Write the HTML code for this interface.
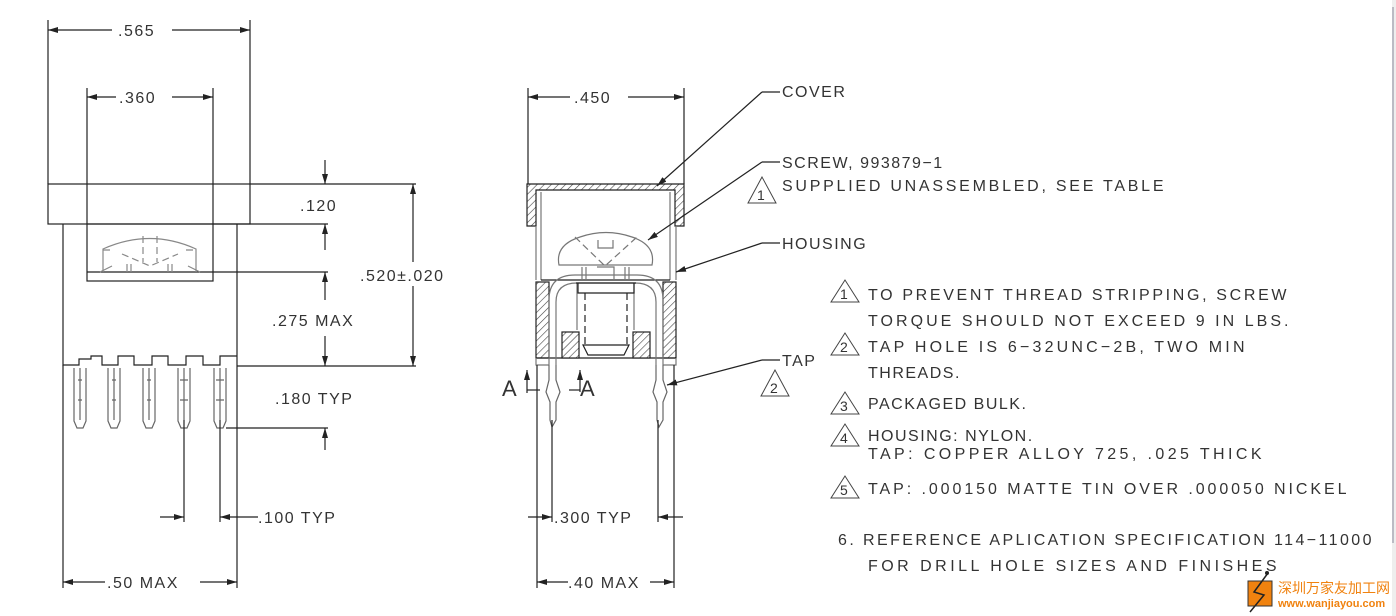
<!DOCTYPE html>
<html><head><meta charset="utf-8"><style>
html,body{margin:0;padding:0;background:#fff;}
svg{display:block;}
text{font-family:"Liberation Sans","Noto Sans CJK SC",sans-serif;fill:#333;}
</style></head><body>
<svg width="1396" height="616" viewBox="0 0 1396 616" xmlns="http://www.w3.org/2000/svg">
<defs>
<pattern id="h" width="5" height="5" patternUnits="userSpaceOnUse" patternTransform="rotate(45)">
<rect width="5" height="5" fill="#fff"/><line x1="0" y1="0" x2="0" y2="5" stroke="#444" stroke-width="1.2"/>
</pattern>
<marker id="a" viewBox="0 0 10 6" refX="10" refY="3" markerWidth="10" markerHeight="6" orient="auto-start-reverse" markerUnits="userSpaceOnUse">
<path d="M0,0 L10,3 L0,6 z" fill="#222"/></marker>
</defs>
<rect x="1392" y="0" width="4" height="616" fill="#eee"/>
<line x1="1393" y1="7" x2="1393" y2="543" stroke="#889" stroke-width="1"/>

<g stroke="#222" stroke-width="1.2" fill="none">
<!-- LEFT VIEW -->
<line x1="48" y1="20" x2="48" y2="184"/><line x1="250" y1="20" x2="250" y2="184"/>
<line x1="48" y1="30" x2="112" y2="30" marker-start="url(#a)"/><line x1="172" y1="30" x2="250" y2="30" marker-end="url(#a)"/>
<line x1="87" y1="88" x2="87" y2="224"/><line x1="213" y1="88" x2="213" y2="224"/>
<line x1="87" y1="97" x2="116" y2="97" marker-start="url(#a)"/><line x1="172" y1="97" x2="213" y2="97" marker-end="url(#a)"/>
<rect x="48" y="184" width="202" height="40"/>
<path d="M63,224 V365 H79 V359 H91 V356 H102 V365 H118 V356 H134 V365 H152 V356 H168 V365 H186 V356 H203 V365 H220 V356 H237 V365 M237,224 V365"/>
<rect x="87" y="224" width="126" height="57"/>
<line x1="87" y1="272" x2="213" y2="272"/>
<g stroke="#888"><path d="M103,272 V249 Q150,228 196,249 V272"/>
<path d="M103,250 H114 M122,254 L150,266 L178,254 M186,250 H196 M143,236 V262 M157,236 V262" stroke-dasharray="7,4"/>
<path d="M100,272 L112,266 M200,272 L188,266 M127,264 V272 M131,264 V272 M168,264 V272 M172,264 V272"/></g>
<g stroke="#666">
<path d="M74,368 V421 L77,428 H83 L86,421 V368 M78,380 H82 M78,400 H82 M80,368 V420"/>
<path d="M108,368 V421 L111,428 H117 L120,421 V368 M112,380 H116 M112,400 H116 M114,368 V420"/>
<path d="M143,368 V421 L146,428 H152 L155,421 V368 M147,380 H151 M147,400 H151 M149,368 V420"/>
<path d="M178,368 V421 L181,428 H187 L190,421 V368 M180,380 H188 M180,400 H188 M184,368 V420"/>
<path d="M214,368 V421 L217,428 H223 L226,421 V368 M216,380 H224 M216,400 H224 M220,368 V420"/></g>
<line x1="63" y1="365" x2="63" y2="588"/><line x1="237" y1="365" x2="237" y2="588"/>
<line x1="184" y1="420" x2="184" y2="522"/><line x1="220" y1="420" x2="220" y2="522"/>
<line x1="160" y1="517" x2="184" y2="517" marker-end="url(#a)"/><line x1="258" y1="517" x2="220" y2="517" marker-end="url(#a)"/>
<line x1="63" y1="582" x2="105" y2="582" marker-start="url(#a)"/><line x1="200" y1="582" x2="237" y2="582" marker-end="url(#a)"/>
<!-- right dims -->
<line x1="250" y1="184" x2="416" y2="184"/><line x1="213" y1="224" x2="328" y2="224"/>
<line x1="213" y1="272" x2="328" y2="272"/><line x1="237" y1="366" x2="416" y2="366"/>
<line x1="226" y1="428" x2="328" y2="428"/>
<line x1="325" y1="160" x2="325" y2="184" marker-end="url(#a)"/><line x1="325" y1="250" x2="325" y2="224" marker-end="url(#a)"/>
<line x1="325" y1="300" x2="325" y2="272" marker-end="url(#a)"/><line x1="325" y1="336" x2="325" y2="366" marker-end="url(#a)"/>
<line x1="325" y1="450" x2="325" y2="428" marker-end="url(#a)"/>
<line x1="413" y1="262" x2="413" y2="184" marker-end="url(#a)"/><line x1="413" y1="286" x2="413" y2="366" marker-end="url(#a)"/>

<!-- MIDDLE VIEW -->
<line x1="528" y1="88" x2="528" y2="184"/><line x1="684" y1="88" x2="684" y2="184"/>
<line x1="528" y1="97" x2="570" y2="97" marker-start="url(#a)"/><line x1="628" y1="97" x2="684" y2="97" marker-end="url(#a)"/>
<path d="M527,184 H684 V226 H675 V190 H536 V226 H527 Z" fill="url(#h)"/>
<g stroke="#777"><path d="M536,226 V280 M676,226 V280 M541,192 V280 M670,192 V280"/></g>
<line x1="541" y1="280" x2="670" y2="280"/>
<rect x="536" y="282" width="13" height="76" fill="url(#h)"/><rect x="663" y="282" width="13" height="76" fill="url(#h)"/>
<line x1="536" y1="358" x2="676" y2="358"/>
<g stroke="#777"><path d="M536,358 V365 H549 M663,365 H676 V358"/>
<path d="M549,365 V300 Q549,275 575,275 H637 Q663,275 663,300 V365"/>
<path d="M556,365 V302 Q556,283 577,283 H635 Q656,283 656,302 V365"/>
<path d="M559,265 Q555,245 580,237 Q606,228 632,237 Q656,245 652,265 Z M598,240 V248 H613 V240"/>
<path d="M575,237 L605,266 L637,237" stroke-dasharray="7,4"/>
<path d="M582,267 V280 M586,267 V280 M625,267 V280 M629,267 V280 M597,267 H614 V280"/>
<path d="M577,283 V330 M634,283 V330"/></g>
<path d="M576,283 H636 M578,283 V293 H634 V283"/>
<rect x="562" y="332" width="17" height="26" fill="url(#h)"/><rect x="633" y="332" width="17" height="26" fill="url(#h)"/>
<path d="M585,293 V345 M627,293 V345" stroke-dasharray="7,4"/>
<path d="M583,345 H629 L624,355 H588 Z"/>
<g stroke="#666">
<path d="M549,365 V380 L546,392 L550,402 V420 L552,427 L556,420 V402 L560,392 L556,380 V365"/>
<path d="M656,365 V380 L653,392 L657,402 V420 L659,427 L663,420 V402 L667,392 L663,380 V365"/></g>
<line x1="537" y1="365" x2="537" y2="588"/><line x1="674" y1="365" x2="674" y2="588"/>
<line x1="552" y1="420" x2="552" y2="522"/><line x1="658" y1="420" x2="658" y2="522"/>
<line x1="528" y1="517" x2="552" y2="517" marker-end="url(#a)"/><line x1="683" y1="517" x2="658" y2="517" marker-end="url(#a)"/>
<line x1="537" y1="582" x2="568" y2="582" marker-start="url(#a)"/><line x1="650" y1="582" x2="674" y2="582" marker-end="url(#a)"/>
<path d="M527,393 V388 M527,392 V370" marker-end="url(#a)"/><line x1="527" y1="390" x2="540" y2="390"/>
<line x1="580" y1="392" x2="580" y2="370" marker-end="url(#a)"/><line x1="569" y1="390" x2="580" y2="390"/>
<!-- leaders -->
<line x1="780" y1="92" x2="762" y2="92"/><line x1="762" y1="92" x2="657" y2="186" marker-end="url(#a)"/>
<line x1="780" y1="162" x2="762" y2="162"/><line x1="762" y1="162" x2="648" y2="240" marker-end="url(#a)"/>
<line x1="780" y1="243" x2="762" y2="243"/><line x1="762" y1="243" x2="676" y2="272" marker-end="url(#a)"/>
<line x1="780" y1="360" x2="762" y2="360"/><line x1="762" y1="360" x2="667" y2="385" marker-end="url(#a)"/>
<!-- triangles -->
<g stroke="#444" stroke-width="1">
<path d="M762,177 L748,203 H776 Z"/><path d="M775,370 L761,396 H789 Z"/>
<path d="M845,280 L831,302 H859 Z"/><path d="M845,333 L831,355 H859 Z"/>
<path d="M845,392 L831,414 H859 Z"/><path d="M845,424 L831,446 H859 Z"/><path d="M845,476 L831,498 H859 Z"/></g>
</g>

<g font-size="16" letter-spacing="1.5">
<text x="118" y="36">.565</text>
<text x="119" y="103">.360</text>
<text x="300" y="211">.120</text>
<text x="360" y="281">.520±.020</text>
<text x="272" y="326">.275 MAX</text>
<text x="275" y="404">.180 TYP</text>
<text x="258" y="523">.100 TYP</text>
<text x="107" y="588">.50 MAX</text>
<text x="574" y="103">.450</text>
<text x="554" y="523">.300 TYP</text>
<text x="568" y="588">.40 MAX</text>
<text x="502" y="396" font-size="22" letter-spacing="0">A</text>
<text x="580" y="396" font-size="22" letter-spacing="0">A</text>
<text x="782" y="97">COVER</text>
<text x="782" y="168">SCREW, 993879−1</text>
<text x="782" y="191" textLength="383">SUPPLIED UNASSEMBLED, SEE TABLE</text>
<text x="782" y="249">HOUSING</text>
<text x="782" y="366">TAP</text>
<text x="868" y="300" textLength="420">TO PREVENT THREAD STRIPPING, SCREW</text>
<text x="868" y="326" textLength="422">TORQUE SHOULD NOT EXCEED 9 IN LBS.</text>
<text x="868" y="352" textLength="378">TAP HOLE IS 6−32UNC−2B, TWO MIN</text>
<text x="868" y="378">THREADS.</text>
<text x="868" y="409">PACKAGED BULK.</text>
<text x="868" y="441">HOUSING: NYLON.</text>
<text x="868" y="459" textLength="395">TAP: COPPER ALLOY 725, .025 THICK</text>
<text x="868" y="494" textLength="480">TAP: .000150 MATTE TIN OVER .000050 NICKEL</text>
<text x="838" y="545" textLength="535">6. REFERENCE APLICATION SPECIFICATION 114−11000</text>
<text x="868" y="571" textLength="410">FOR DRILL HOLE SIZES AND FINISHES</text>
</g>
<g font-size="14" letter-spacing="0">
<text x="757" y="200">1</text><text x="770" y="393">2</text>
<text x="840" y="299">1</text><text x="840" y="352">2</text><text x="840" y="411">3</text>
<text x="840" y="443">4</text><text x="840" y="495">5</text>
</g>
<!-- watermark -->
<rect x="1248" y="581" width="24" height="25" fill="#f0820f" stroke="#333"/>
<path d="M1268,573 L1254,592 L1264,595 L1250,612" stroke="#222" stroke-width="1.5" fill="none"/>
<circle cx="1267" cy="573" r="2" fill="#222"/>
<text x="1278" y="593" font-size="14" style="fill:#f0820f">深圳万家友加工网</text>
<text x="1278" y="607" font-size="11" font-weight="bold" style="fill:#f0820f">www.wanjiayou.com</text>
</svg>
</body></html>
